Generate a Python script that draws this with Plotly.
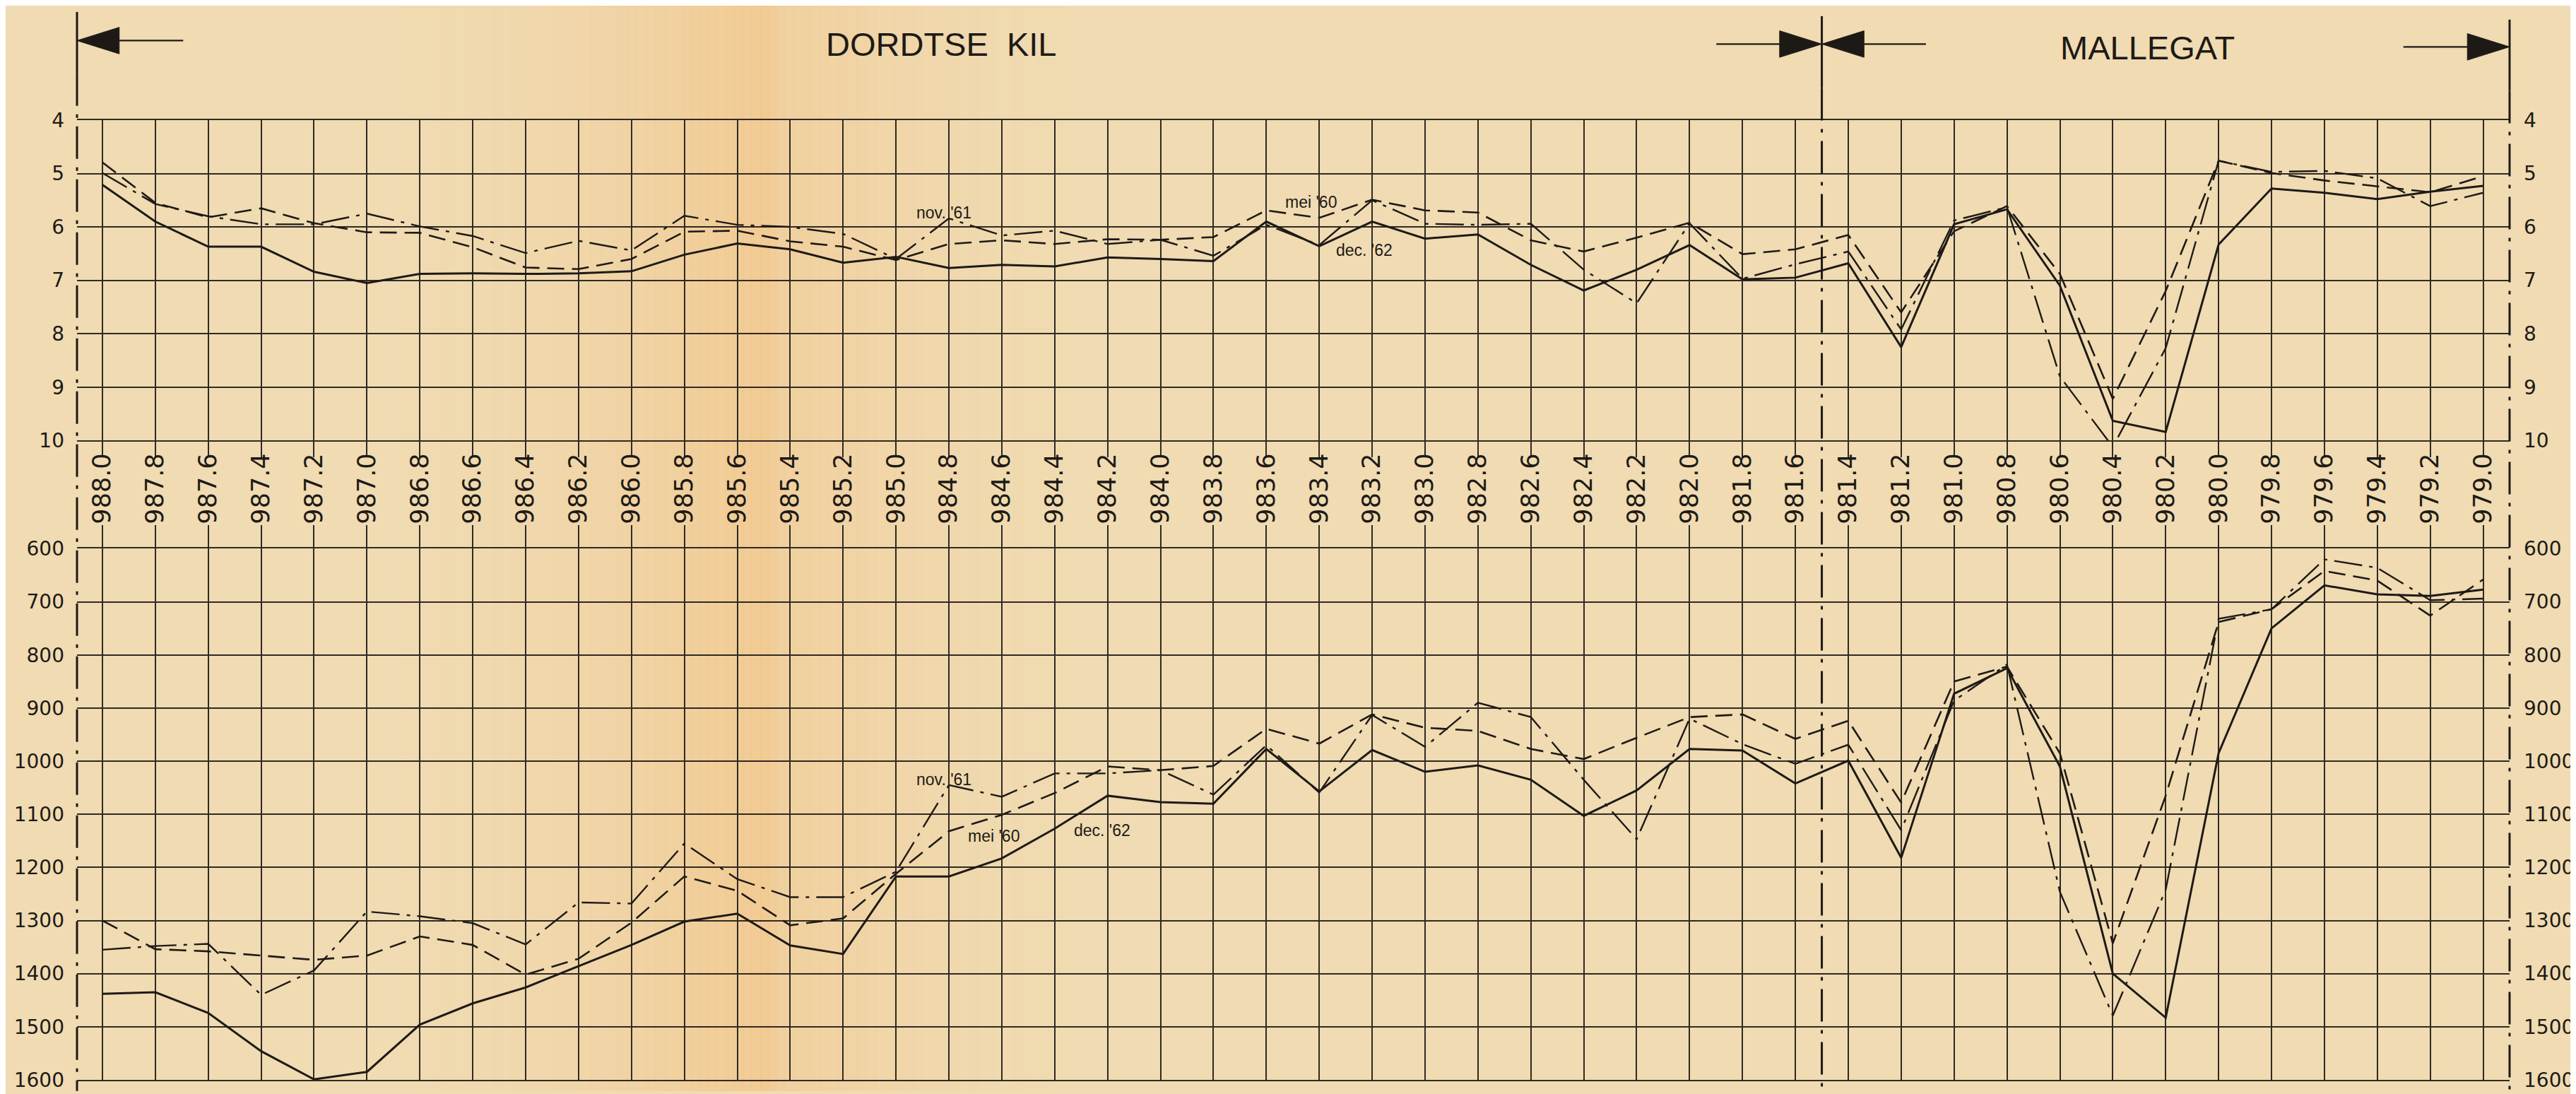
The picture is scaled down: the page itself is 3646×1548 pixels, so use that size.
import plotly.graph_objects as go

# ---------------- data ----------------
KM = [988.0, 987.8, 987.6, 987.4, 987.2, 987.0, 986.8, 986.6, 986.4, 986.2,
      986.0, 985.8, 985.6, 985.4, 985.2, 985.0, 984.8, 984.6, 984.4, 984.2,
      984.0, 983.8, 983.6, 983.4, 983.2, 983.0, 982.8, 982.6, 982.4, 982.2,
      982.0, 981.8, 981.6, 981.4, 981.2, 981.0, 980.8, 980.6, 980.4, 980.2,
      980.0, 979.8, 979.6, 979.4, 979.2, 979.0]
TICK_LABELS = ["988.0", "987.8", "987.6", "987.4", "987.2", "987.0", "986.8", "986.6", "986.4", "986.2",
               "986.0", "985.8", "985.6", "985.4", "985.2", "985.0", "984.8", "984.6", "984.4", "984.2",
               "984.0", "983.8", "983.6", "983.4", "983.2", "983.0", "982.8", "982.6", "982.4", "982.2",
               "982.0", "981.8", "981.6", "981.4", "981.2", "981.0", "980.8", "980.6", "980.4", "980.2",
               "980.0", "979.8", "979.6", "979.4", "979.2", "979.0"]
TOP_TICKS = [4, 5, 6, 7, 8, 9, 10]
BOTTOM_TICKS = [600, 700, 800, 900, 1000, 1100, 1200, 1300, 1400, 1500, 1600]

# upper panel
TOP_MEI_60 = [4.79, 5.55, 5.82, 5.65, 5.93, 6.10, 6.11, 6.38, 6.76, 6.79,
              6.60, 6.09, 6.07, 6.27, 6.37, 6.62, 6.32, 6.25, 6.32, 6.23,
              6.24, 6.19, 5.69, 5.83, 5.49, 5.69, 5.73, 6.25, 6.46, 6.20,
              5.92, 6.51, 6.42, 6.15, 7.60, 6.08, 5.61, 6.88, 9.22, 7.20,
              4.76, 4.99, 5.13, 5.24, 5.35, 5.05]
TOP_NOV_61 = [4.99, 5.57, 5.80, 5.95, 5.95, 5.75, 5.99, 6.17, 6.49, 6.26,
              6.44, 5.79, 5.96, 6.00, 6.13, 6.60, 5.84, 6.16, 6.07, 6.32,
              6.24, 6.54, 5.96, 6.34, 5.50, 5.94, 5.96, 5.94, 6.80, 7.43,
              5.93, 6.97, 6.70, 6.46, 7.92, 5.88, 5.63, 8.80, 10.12, 8.27,
              4.76, 4.97, 4.95, 5.09, 5.61, 5.36]
TOP_DEC_62 = [5.21, 5.90, 6.37, 6.37, 6.84, 7.05, 6.88, 6.87, 6.88, 6.87,
              6.83, 6.52, 6.31, 6.42, 6.67, 6.56, 6.77, 6.71, 6.74, 6.57,
              6.60, 6.64, 5.90, 6.36, 5.90, 6.22, 6.14, 6.71, 7.19, 6.80,
              6.34, 6.98, 6.95, 6.68, 8.25, 5.95, 5.67, 7.10, 9.63, 9.84,
              6.33, 5.28, 5.36, 5.48, 5.34, 5.23]

# lower panel
BOT_MEI_60 = [1300, 1354, 1358, 1366, 1374, 1366, 1330, 1346, 1402, 1372,
              1304, 1217, 1244, 1309, 1296, 1212, 1132, 1101, 1060, 1010,
              1017, 1009, 939, 967, 912, 937, 943, 977, 996, 956,
              917, 912, 958, 924, 1078, 850, 822, 985, 1343, 1065,
              738, 714, 642, 660, 726, 658]
BOT_NOV_61 = [1355, 1348, 1344, 1440, 1394, 1283, 1292, 1305, 1345, 1266,
              1268, 1155, 1222, 1256, 1256, 1208, 1045, 1067, 1023, 1023,
              1017, 1063, 970, 1059, 913, 973, 890, 917, 1035, 1147,
              920, 968, 1005, 969, 1130, 886, 818, 1246, 1479, 1242,
              732, 714, 620, 636, 697, 694]
BOT_DEC_62 = [1438, 1435, 1474, 1546, 1599, 1585, 1496, 1456, 1426, 1386,
              1346, 1302, 1287, 1347, 1363, 1217, 1217, 1183, 1127, 1065,
              1077, 1080, 977, 1057, 979, 1020, 1008, 1035, 1103, 1055,
              977, 980, 1042, 999, 1182, 873, 825, 1010, 1400, 1483,
              985, 750, 669, 686, 689, 677]

SERIES_NAMES = ["mei '60", "nov. '61", "dec. '62"]
SEPARATOR_KM = 981.5
REACH_LEFT = "DORDTSE\u00a0 KIL"
REACH_RIGHT = "MALLEGAT"

# ---------------- style ----------------
W, H = 3646, 1548
L, R, T, B = 101, 3560, 162, 1537
X_RANGE = [988.096, 978.9]
INK = "#1d1a16"
GRID = "#2f2a24"
PAPER = "#F0DBB2"
NUM_FONT = "DejaVu Sans"
TXT_FONT = "Liberation Sans"

STYLES = {
    "mei '60": dict(dash="24px,11px", width=2.6),
    "nov. '61": dict(dash="40px,10px,5px,10px", width=2.4),
    "dec. '62": dict(dash="solid", width=3.0),
}


def pxx(xp):
    return (xp - L) / (R - L)


def pxy(yp):
    return (B - yp) / (B - T)


top_dom = [(B - 621) / (B - T), 1.0]
bot_dom = [0.0, (B - 776) / (B - T)]

fig = go.Figure()

for name, vals in zip(SERIES_NAMES, [TOP_MEI_60, TOP_NOV_61, TOP_DEC_62]):
    st = STYLES[name]
    fig.add_trace(go.Scatter(x=KM, y=vals, mode="lines", name=name,
                             line=dict(color=INK, width=st["width"], dash=st["dash"]),
                             xaxis="x", yaxis="y", showlegend=False, hoverinfo="skip"))
for name, vals in zip(SERIES_NAMES, [BOT_MEI_60, BOT_NOV_61, BOT_DEC_62]):
    st = STYLES[name]
    fig.add_trace(go.Scatter(x=KM, y=vals, mode="lines", name=name,
                             line=dict(color=INK, width=st["width"], dash=st["dash"]),
                             xaxis="x2", yaxis="y2", showlegend=False, hoverinfo="skip"))
# right-hand value axes
fig.add_trace(go.Scatter(x=[], y=[], xaxis="x", yaxis="y3", showlegend=False))
fig.add_trace(go.Scatter(x=[], y=[], xaxis="x2", yaxis="y4", showlegend=False))

grid_common = dict(showgrid=True, gridcolor=GRID, gridwidth=1.7, zeroline=False)

fig.update_layout(
    width=W, height=H, autosize=False,
    margin=dict(l=L, r=W - R, t=T, b=H - B, pad=0),
    paper_bgcolor=PAPER, plot_bgcolor="rgba(0,0,0,0)",
    xaxis=dict(domain=[0, 1], anchor="y", range=X_RANGE, tickmode="array",
               tickvals=KM, ticktext=TICK_LABELS, tickangle=-90,
               ticks="outside", ticklen=22, tickwidth=1.7, tickcolor=GRID,
               ticklabelstandoff=-20,
               tickfont=dict(family=NUM_FONT, size=35, color=INK),
               showline=True, linecolor=GRID, linewidth=2.2, mirror=True,
               **grid_common),
    xaxis2=dict(domain=[0, 1], anchor="y2", matches="x", range=X_RANGE, side="top",
                tickmode="array", tickvals=KM, showticklabels=False,
                ticks="outside", ticklen=31, tickwidth=1.7, tickcolor=GRID,
                showline=True, linecolor=GRID, linewidth=2.2, mirror=True,
                **grid_common),
    yaxis=dict(domain=top_dom, anchor="x", range=[10, 4], tickmode="array",
               tickvals=TOP_TICKS, ticks="", ticklabelstandoff=17,
               tickfont=dict(family=NUM_FONT, size=28, color=INK),
               **grid_common),
    yaxis3=dict(overlaying="y", anchor="x", side="right", range=[10, 4],
                tickmode="array", tickvals=TOP_TICKS, ticks="", ticklabelstandoff=19,
                tickfont=dict(family=NUM_FONT, size=28, color=INK),
                showgrid=False, zeroline=False),
    yaxis2=dict(domain=bot_dom, anchor="x2", range=[1600, 600], tickmode="array",
                tickvals=BOTTOM_TICKS, ticks="", ticklabelstandoff=17,
                tickfont=dict(family=NUM_FONT, size=28, color=INK),
                **grid_common),
    yaxis4=dict(overlaying="y2", anchor="x2", side="right", range=[1600, 600],
                tickmode="array", tickvals=BOTTOM_TICKS, ticks="", ticklabelstandoff=19,
                tickfont=dict(family=NUM_FONT, size=28, color=INK),
                showgrid=False, zeroline=False),
)

shapes = []
# paper toning around the fold (decorative background), profile: (pixel x, opacity)
BAND_PROFILE = [(560, 0.0), (680, 0.04), (780, 0.09), (870, 0.16), (950, 0.25),
                (1010, 0.33), (1085, 0.42), (1095, 0.27), (1170, 0.2), (1250, 0.13),
                (1330, 0.07), (1420, 0.03), (1520, 0.0)]
for (xa, oa), (xb, ob) in zip(BAND_PROFILE[:-1], BAND_PROFILE[1:]):
    n = max(1, int((xb - xa) / 12))
    for k in range(n):
        s0 = xa + (xb - xa) * k / n
        s1 = xa + (xb - xa) * (k + 1) / n
        op = oa + (ob - oa) * (k + 0.5) / n
        if op <= 0:
            continue
        shapes.append(dict(type="rect", xref="paper", yref="paper", x0=pxx(s0), x1=pxx(s1 + 0.6),
                           y0=pxy(H + 5), y1=pxy(-5), fillcolor="#F4B46A", opacity=op,
                           line=dict(width=0), layer="below"))

DASHDOT = "46px,12px,5px,12px"
# left frame line
shapes.append(dict(type="line", xref="paper", yref="paper", x0=0, x1=0,
                   y0=pxy(7), y1=pxy(95), line=dict(color=INK, width=3)))
shapes.append(dict(type="line", xref="paper", yref="paper", x0=0, x1=0,
                   y0=pxy(95), y1=pxy(H + 5), line=dict(color=INK, width=3, dash=DASHDOT)))
# right frame line
shapes.append(dict(type="line", xref="paper", yref="paper", x0=1, x1=1,
                   y0=pxy(18), y1=pxy(120), line=dict(color=INK, width=3)))
shapes.append(dict(type="line", xref="paper", yref="paper", x0=1, x1=1,
                   y0=pxy(120), y1=pxy(H + 5), line=dict(color=INK, width=3, dash=DASHDOT)))
# separator between reaches
shapes.append(dict(type="line", xref="x", yref="paper", x0=SEPARATOR_KM, x1=SEPARATOR_KM,
                   y0=pxy(13), y1=pxy(116), line=dict(color=INK, width=3)))
shapes.append(dict(type="line", xref="x", yref="paper", x0=SEPARATOR_KM, x1=SEPARATOR_KM,
                   y0=pxy(116), y1=pxy(H + 5), line=dict(color=INK, width=3, dash=DASHDOT)))

sep_px = L + (SEPARATOR_KM - X_RANGE[0]) / (X_RANGE[1] - X_RANGE[0]) * (R - L)


def arrow(tip_x, y, direction, tail_len, head_len=60, half=19):
    # direction: -1 points left, +1 points right
    base_x = tip_x - direction * head_len
    tail_x = tip_x - direction * tail_len
    path = "M {:.5f},{:.5f} L {:.5f},{:.5f} L {:.5f},{:.5f} Z".format(
        pxx(tip_x), pxy(y), pxx(base_x), pxy(y - half), pxx(base_x), pxy(y + half))
    return [
        dict(type="path", xref="paper", yref="paper", path=path, fillcolor=INK,
             line=dict(color=INK, width=1)),
        dict(type="line", xref="paper", yref="paper", x0=pxx(tail_x), x1=pxx(base_x),
             y0=pxy(y), y1=pxy(y), line=dict(color=INK, width=2.2)),
    ]


shapes += arrow(L, 48, -1, 151)
shapes += arrow(sep_px, 53, +1, 150)
shapes += arrow(sep_px, 53, -1, 148)
shapes += arrow(R, 57, +1, 151)

annotations = [
    dict(text=REACH_LEFT, xref="paper", yref="paper", x=pxx(1330), y=pxy(53),
         xanchor="center", yanchor="middle", showarrow=False,
         font=dict(family=TXT_FONT, size=47, color=INK)),
    dict(text=REACH_RIGHT, xref="paper", yref="paper", x=pxx(3045), y=pxy(58),
         xanchor="center", yanchor="middle", showarrow=False,
         font=dict(family=TXT_FONT, size=47, color=INK)),
]
LABEL_POS_TOP = {"nov. '61": (984.82, 5.74), "mei '60": (983.43, 5.54), "dec. '62": (983.23, 6.44)}
LABEL_POS_BOT = {"nov. '61": (984.82, 1034), "mei '60": (984.63, 1141), "dec. '62": (984.22, 1131)}
for name in SERIES_NAMES:
    xv, yv = LABEL_POS_TOP[name]
    annotations.append(dict(text=name, x=xv, y=yv, xref="x", yref="y", showarrow=False,
                            xanchor="center", yanchor="middle",
                            font=dict(family=TXT_FONT, size=23, color=INK)))
    xv, yv = LABEL_POS_BOT[name]
    annotations.append(dict(text=name, x=xv, y=yv, xref="x2", yref="y2", showarrow=False,
                            xanchor="center", yanchor="middle",
                            font=dict(family=TXT_FONT, size=23, color=INK)))

fig.update_layout(shapes=shapes, annotations=annotations)
fig.write_html("out.html")
